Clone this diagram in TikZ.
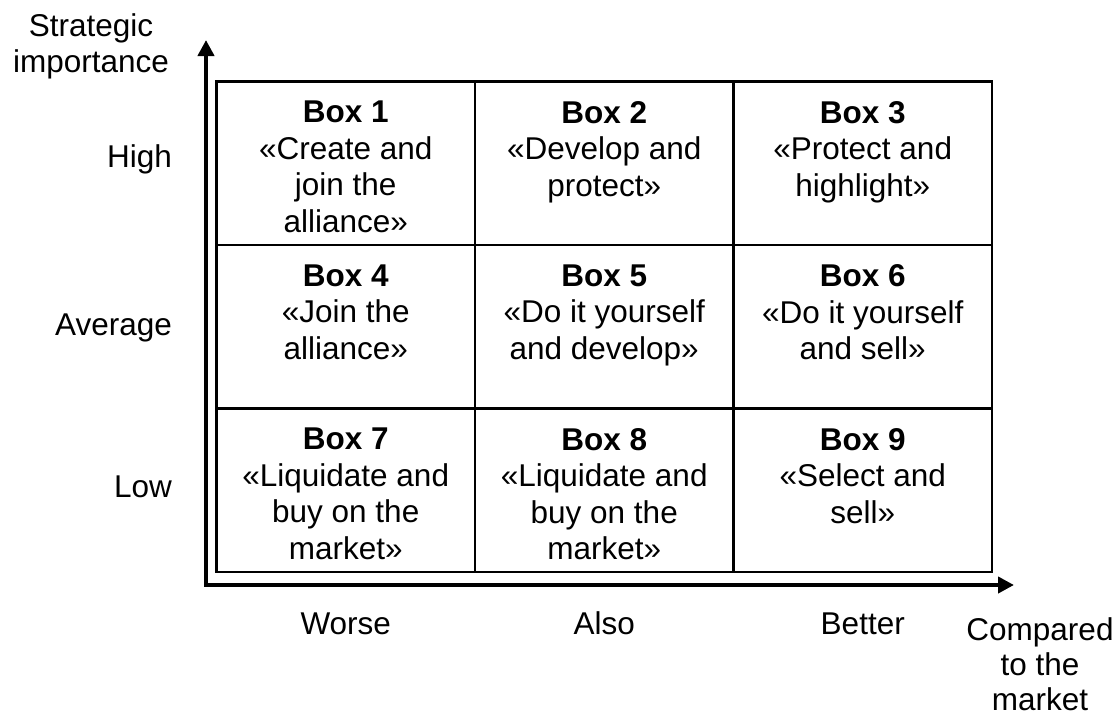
\documentclass[tikz,border=0pt]{standalone}
\usepackage{fontspec}
\setmainfont{Liberation Sans}
\usetikzlibrary{arrows.meta}
\begin{document}
\begin{tikzpicture}[x=1pt,y=-1pt,
  txt/.style={font=\fontsize{31.5pt}{36.5pt}\selectfont, inner sep=0pt, outer sep=0pt, align=center},
  cell/.style={draw, line width=2.5pt, minimum width=258.5pt, minimum height=163.5pt, inner sep=0pt, outer sep=0pt},
  boxtxt/.style={txt, anchor=north},
  rowlab/.style={txt, anchor=base east},
  collab/.style={txt, anchor=base},
  axisline/.style={line width=4pt, line join=miter, {Triangle[length=16pt,width=16pt]}-{Triangle[length=16pt,width=16pt]}}
]
\useasboundingbox (0,0) rectangle (1120,718);
% cells
\node[cell] (c1) at (345.75,163.45) {};
\node[cell] (c2) at (604.25,163.45) {};
\node[cell] (c3) at (862.75,163.45) {};
\node[cell] (c4) at (345.75,326.95) {};
\node[cell] (c5) at (604.25,326.95) {};
\node[cell] (c6) at (862.75,326.95) {};
\node[cell] (c7) at (345.75,490.45) {};
\node[cell] (c8) at (604.25,490.45) {};
\node[cell] (c9) at (862.75,490.45) {};
% box texts
\node[boxtxt] (t1) at ([yshift=-19.5pt]c1.north) {\textbf{Box 1}\\«Create and\\join the\\alliance»};
\node[boxtxt] (t2) at ([yshift=-19.5pt]c2.north) {\textbf{Box 2}\\«Develop and\\protect»};
\node[boxtxt] (t3) at ([yshift=-19.5pt]c3.north) {\textbf{Box 3}\\«Protect and\\highlight»};
\node[boxtxt] (t4) at ([yshift=-19.5pt]c4.north) {\textbf{Box 4}\\«Join the\\alliance»};
\node[boxtxt] (t5) at ([yshift=-19.5pt]c5.north) {\textbf{Box 5}\\«Do it yourself\\and develop»};
\node[boxtxt] (t6) at ([yshift=-19.5pt]c6.north) {\textbf{Box 6}\\«Do it yourself\\and sell»};
\node[boxtxt] (t7) at ([yshift=-19.5pt]c7.north) {\textbf{Box 7}\\«Liquidate and\\buy on the\\market»};
\node[boxtxt] (t8) at ([yshift=-19.5pt]c8.north) {\textbf{Box 8}\\«Liquidate and\\buy on the\\market»};
\node[boxtxt] (t9) at ([yshift=-19.5pt]c9.north) {\textbf{Box 9}\\«Select and\\sell»};
% axes
\coordinate (ytip) at (206,40);
\coordinate (origin) at (206,585);
\coordinate (xtip) at (1014,585);
\draw[axisline] (ytip) -- (origin) -- (xtip);
% row labels
\node[rowlab] (high) at (172,167) {High};
\node[rowlab] (avg) at (172,335) {Average};
\node[rowlab] (low) at (172,497) {Low};
% column labels
\node[collab] (worse) at (345.75,634) {Worse};
\node[collab] (also) at (604.25,634) {Also};
\node[collab] (better) at (862.75,634) {Better};
% axis titles
\node[txt, anchor=north] (ytitle) at (91,13.5) {Strategic\\importance};
\node[txt, anchor=north, font=\fontsize{31.5pt}{35pt}\selectfont] (xtitle) at (1040,617.5) {Compared\\to the\\market};
\end{tikzpicture}
\end{document}
